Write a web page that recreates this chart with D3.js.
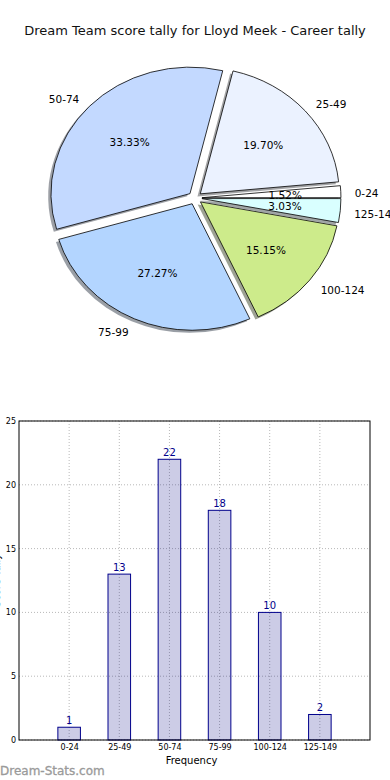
<!DOCTYPE html>
<html>
<head>
<meta charset="utf-8">
<script src="https://cdn.jsdelivr.net/npm/d3@7"></script>
<style>
  body { margin: 0; background: #fff; }
  svg { display: block; font-family: "DejaVu Sans", sans-serif; }
</style>
</head>
<body>
<div class="chart"></div>
<script>
var categories = ['0-24', '25-49', '50-74', '75-99', '100-124', '125-149'];
var tally = [1, 13, 22, 18, 10, 2];
var sliceColors = ['#ffffff', '#ebf2ff', '#c3d9ff', '#b3d5ff', '#cdeb8b', '#d9ffff'];
var yTicks = [0, 5, 10, 15, 20, 25];

var svg = d3.select('.chart').append('svg')
  .attr('width', 390)
  .attr('height', 780);

svg.append('text')
  .attr('x', 195)
  .attr('y', 35)
  .attr('text-anchor', 'middle')
  .attr('font-size', 13)
  .attr('fill', '#111')
  .text('Dream Team score tally for Lloyd Meek - Career tally');

// ---- pie (matplotlib style: counter-clockwise from 3 o'clock, exploded, shadowed)
var cx = 195, cy = 198, rx = 139, ry = 126.5;
var total = d3.sum(tally);

var pie = d3.pie().sort(null).value(function(d) { return d; })
  .startAngle(Math.PI / 2).endAngle(Math.PI / 2 - 2 * Math.PI);
var arcs = pie(tally);

var arc = d3.arc().innerRadius(0).outerRadius(rx);

// d3 angle a -> math angle (ccw from +x) : theta = PI/2 - a
function midTheta(d) { return Math.PI / 2 - (d.startAngle + d.endAngle) / 2; }
var explode = 0.05;

var pieG = svg.append('g')
  .attr('transform', 'translate(' + cx + ',' + cy + ') scale(1,' + (ry / rx) + ')');

pieG.selectAll('path.shadow')
  .data(arcs)
  .enter().append('path')
  .attr('class', 'shadow')
  .attr('transform', function(d) {
    var t = midTheta(d);
    return 'translate(' + (explode * rx * Math.cos(t) - 0.02 * rx) + ',' + (-explode * rx * Math.sin(t) + 0.02 * rx) + ')';
  })
  .attr('d', arc)
  .attr('fill', function(d, i) {
    var c = d3.rgb(sliceColors[i]);
    return d3.rgb(c.r * 0.3, c.g * 0.3, c.b * 0.3);
  })
  .attr('fill-opacity', 0.5)
  .attr('stroke', 'none');

pieG.selectAll('path.wedge')
  .data(arcs)
  .enter().append('path')
  .attr('class', 'wedge')
  .attr('transform', function(d) {
    var t = midTheta(d);
    return 'translate(' + (explode * rx * Math.cos(t)) + ',' + (-explode * rx * Math.sin(t)) + ')';
  })
  .attr('d', arc)
  .attr('fill', function(d, i) { return sliceColors[i]; })
  .attr('stroke', '#000')
  .attr('stroke-width', 0.8)
  .attr('vector-effect', 'non-scaling-stroke');

function piePos(d, f) {
  var t = midTheta(d);
  return {
    x: cx + (explode + f) * rx * Math.cos(t),
    y: cy - (explode + f) * ry * Math.sin(t),
    c: Math.cos(t)
  };
}

svg.append('g').selectAll('text')
  .data(arcs)
  .enter().append('text')
  .attr('x', function(d) { return piePos(d, 1.1).x; })
  .attr('y', function(d) { return piePos(d, 1.1).y + 2; })
  .attr('dy', '0.35em')
  .attr('text-anchor', function(d) { return piePos(d, 1.1).c > 0 ? 'start' : 'end'; })
  .attr('font-size', 10.5)
  .attr('fill', '#000')
  .text(function(d, i) { return categories[i]; });

svg.append('g').selectAll('text')
  .data(arcs)
  .enter().append('text')
  .attr('x', function(d) { return piePos(d, 0.6).x; })
  .attr('y', function(d) { return piePos(d, 0.6).y + 1; })
  .attr('dy', '0.35em')
  .attr('text-anchor', 'middle')
  .attr('font-size', 10.5)
  .attr('fill', '#000')
  .text(function(d) { return (100 * d.value / total).toFixed(2) + '%'; });

// ---- bar chart
var plotLeft = 19, plotRight = 370, plotTop = 421, plotBottom = 740;

var x = d3.scaleLinear().domain([-1, 6]).range([plotLeft, plotRight]);
var y = d3.scaleLinear().domain([0, 25]).range([plotBottom, plotTop]);
var barW = 0.45;

var grid = svg.append('g')
  .attr('stroke', '#b8b8b8')
  .attr('stroke-width', 1)
  .attr('stroke-dasharray', '1,2');

grid.selectAll('line.gy')
  .data(yTicks)
  .enter().append('line')
  .attr('x1', plotLeft).attr('x2', plotRight)
  .attr('y1', function(d) { return y(d); })
  .attr('y2', function(d) { return y(d); });

grid.selectAll('line.gx')
  .data(categories)
  .enter().append('line')
  .attr('x1', function(d, i) { return x(i); })
  .attr('x2', function(d, i) { return x(i); })
  .attr('y1', plotTop).attr('y2', plotBottom);

svg.append('g').selectAll('rect')
  .data(tally)
  .enter().append('rect')
  .attr('x', function(d, i) { return x(i - barW / 2); })
  .attr('y', function(d) { return y(d); })
  .attr('width', function(d, i) { return x(i + barW / 2) - x(i - barW / 2); })
  .attr('height', function(d) { return y(0) - y(d); })
  .attr('fill', 'rgba(0,0,128,0.2)')
  .attr('stroke', '#00008b')
  .attr('stroke-width', 1);

svg.append('g').selectAll('text')
  .data(tally)
  .enter().append('text')
  .attr('x', function(d, i) { return x(i); })
  .attr('y', function(d) { return y(d) - 3; })
  .attr('text-anchor', 'middle')
  .attr('font-size', 10)
  .attr('fill', '#00008b')
  .text(function(d) { return d; });

svg.append('rect')
  .attr('x', plotLeft).attr('y', plotTop)
  .attr('width', plotRight - plotLeft).attr('height', plotBottom - plotTop)
  .attr('fill', 'none')
  .attr('stroke', '#000')
  .attr('stroke-width', 1);

var yAxis = d3.axisLeft(y).tickValues(yTicks).tickSize(0).tickPadding(3);
svg.append('g')
  .attr('transform', 'translate(' + plotLeft + ',0)')
  .call(yAxis)
  .call(function(g) { g.select('.domain').remove(); })
  .selectAll('text')
  .attr('font-size', 8)
  .attr('font-family', '"DejaVu Sans", sans-serif')
  .attr('fill', '#000');

var xAxis = d3.axisBottom(x).tickValues(d3.range(categories.length))
  .tickFormat(function(d) { return categories[d]; })
  .tickSize(0).tickPadding(4);
svg.append('g')
  .attr('transform', 'translate(0,' + plotBottom + ')')
  .call(xAxis)
  .call(function(g) { g.select('.domain').remove(); })
  .selectAll('text')
  .attr('font-size', 8)
  .attr('font-family', '"DejaVu Sans", sans-serif')
  .attr('fill', '#000');

svg.append('text')
  .attr('x', x(2.5) - 3)
  .attr('y', 764)
  .attr('text-anchor', 'middle')
  .attr('font-size', 10)
  .attr('fill', '#000')
  .text('Frequency');

// y label sits mostly outside the picture, as in the original
svg.append('text')
  .attr('transform', 'translate(0,' + ((plotTop + plotBottom) / 2) + ') rotate(-90)')
  .attr('text-anchor', 'middle')
  .attr('font-size', 10)
  .attr('fill', '#000')
  .text('Score Tally');

svg.append('text')
  .attr('x', 0)
  .attr('y', 775)
  .attr('font-size', 12)
  .attr('fill', '#9a9a9a')
  .attr('stroke', '#9a9a9a')
  .attr('stroke-width', 0.3)
  .text('Dream-Stats.com');
</script>
</body>
</html>
